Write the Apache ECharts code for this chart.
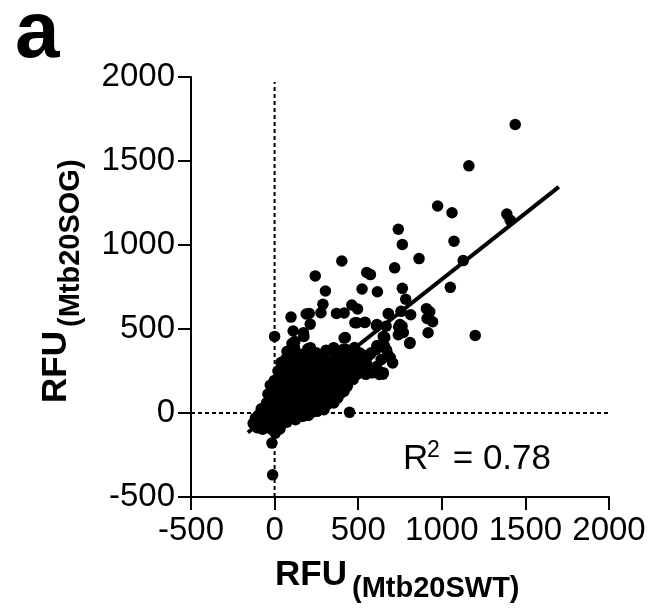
<!DOCTYPE html>
<html>
<head>
<meta charset="utf-8">
<script src="https://cdn.jsdelivr.net/npm/echarts@6/dist/echarts.min.js"></script>
<style>
html,body{margin:0;padding:0;background:#fff;}
#chart{width:655px;height:608px;}
</style>
</head>
<body>
<div id="chart"></div>
<script>
// ---- data ----
const xTicks = [-500, 0, 500, 1000, 1500, 2000];
const yTicks = [-500, 0, 500, 1000, 1500, 2000];

// scattered points (RFU Mtb20SWT, RFU Mtb20SOG)
const outerPoints = [
  [1439,1717],[1162,1471],[975,1232],[1061,1192],[1389,1184],[1409,1148],[1073,1023],[740,1094],
  [764,1003],[1128,907],[402,905],[864,919],[718,864],[551,836],[573,824],[243,816],[523,738],
  [615,722],[304,726],[764,742],[1051,748],[1200,462],[784,677],[289,647],[277,597],[462,643],
  [496,619],[370,593],[416,595],[189,589],[207,593],[98,571],[213,529],[480,537],[539,539],
  [681,589],[756,605],[814,585],[908,621],[928,603],[912,563],[945,543],[918,478],[808,414],
  [742,511],[762,517],[740,466],[609,519],[667,517],[659,450],[111,488],[175,456],[0,456],
  [121,426],[104,414],[416,446],[613,402],[670,374],[692,328],[648,231],[583,239],[448,4],
  [-2,193],[-16,-179],[-12,-368],[74,366],[354,386],[211,382],[358,225],[577,358]
];
const midPoints = [
  [508,358],[547,308],[607,378],[637,318],[657,398],[677,348],[706,298],[627,229],[612,527],
  [680,592],[750,527],[770,479],[810,419],[650,456],[612,396],[571,348],[690,330],[650,240],
  [610,277],[512,277],[472,365],[423,449],[353,389],[173,478],[214,389],[80,368],[119,388],
  [199,382],[249,358],[308,374],[408,378],[541,540],[492,537]
];
const corePoints = [
  [-128,-62],[-115,-30],[-104,-88],[-96,-12],[-88,-55],[-80,25],[-72,-96],[-66,-40],[-60,8],[-52,-70],
  [-48,60],[-44,-20],[-40,112],[-36,-58],[-30,30],[-26,165],[-22,-95],[-18,85],[-12,-30],[-8,140],
  [-5,5],[-2,-70],[2,55],[4,-120],
  [8,190],[10,-15],[14,95],[18,-60],[20,250],[24,30],[28,140],[32,-95],[35,70],[38,300],[42,5],
  [45,180],[48,-40],[50,110],
  [54,230],[57,40],[60,-20],[63,155],[66,320],[70,75],[73,-55],[76,200],[80,10],[83,270],[86,120],
  [90,-30],[93,50],[96,350],[99,175],
  [103,90],[106,240],[109,-10],[112,300],[115,140],[118,30],[121,200],[125,-40],[128,340],[131,100],
  [134,260],[137,50],[140,180],[144,-5],[147,310],[150,130],
  [153,225],[156,20],[159,80],[162,350],[165,160],[168,-20],[171,270],[174,110],[177,40],[180,205],
  [183,320],[186,0],[189,150],[192,250],[195,70],[198,180],
  [202,-15],[205,290],[208,120],[211,40],[214,230],[217,360],[220,160],[224,5],[227,80],[230,270],
  [233,190],[237,30],[240,130],[244,330],[247,60],[250,220],
  [254,10],[257,300],[260,160],[263,90],[267,250],[270,30],[274,200],[277,120],[281,340],[284,60],
  [288,180],[291,280],[295,20],[298,230],
  [302,110],[306,160],[310,310],[314,50],[318,210],[322,140],[326,260],[330,80],[334,370],[338,190],
  [342,110],[346,290],[350,150],
  [354,60],[358,240],[362,180],[366,330],[370,110],[374,220],[378,90],[382,280],[386,150],[390,350],
  [395,200],[399,120],
  [404,260],[408,170],[412,310],[416,130],[420,230],[425,380],[430,190],[435,160],[440,280],[446,220],
  [455,330],[462,250],[470,200],[478,390],[485,280],[492,230],[500,320],[510,260],[520,350],[532,300],
  [545,230],[555,280],
  [-20,20],[15,-10],[30,40],[-35,-25],[60,90],[5,120],[40,-70],[-60,-20],[80,-40],[120,60],[160,110],[200,90]
];

// linear fit y = slope*x + intercept, drawn over this x range
const fitSlope = 0.786;
const fitIntercept = 10;
const fitRange = [-160, 1700];
const r2Label = '0.78';

// reference (zero) lines
const zeroVLine = [[0, -500], [0, 1970]];
const zeroHLine = [[-500, 0], [2010, 0]];

// ---- chart ----
const FONT = "'Liberation Sans', Arial, sans-serif";
const allPoints = corePoints.concat(midPoints, outerPoints);
const fitLine = fitRange.map(x => [x, fitSlope * x + fitIntercept]);

const chart = echarts.init(document.getElementById('chart'), null, {renderer: 'canvas'});
const axisCommon = {
  type: 'value', min: -500, max: 2000, interval: 500,
  axisLine: {show: true, onZero: false, lineStyle: {color: '#000', width: 2}},
  axisTick: {show: true, length: 13, lineStyle: {color: '#000', width: 2}},
  splitLine: {show: false},
  axisLabel: {color: '#000', fontSize: 33, fontFamily: FONT, formatter: v => String(v)}
};
chart.setOption({
  animation: false,
  backgroundColor: '#fff',
  grid: {left: 191, top: 77, width: 418, height: 420, containLabel: false},
  xAxis: Object.assign({}, axisCommon, {axisLabel: Object.assign({}, axisCommon.axisLabel, {margin: 17})}),
  yAxis: Object.assign({}, axisCommon, {axisLabel: Object.assign({}, axisCommon.axisLabel, {margin: 16})}),
  series: [
    {
      type: 'line', data: zeroVLine, symbol: 'none', silent: true, z: 1,
      lineStyle: {color: '#000', width: 2, type: [4, 3]}
    },
    {
      type: 'line', data: zeroHLine, symbol: 'none', silent: true, z: 1,
      lineStyle: {color: '#000', width: 2, type: [4, 3]}
    },
    {
      type: 'scatter', data: allPoints, symbol: 'circle', symbolSize: 11.5, z: 3,
      itemStyle: {color: '#000', opacity: 1}
    },
    {
      type: 'line', data: fitLine, symbol: 'none', silent: true, z: 4,
      lineStyle: {color: '#000', width: 4}
    }
  ],
  graphic: [
    {type: 'text', x: 15, y: 35, style: {text: 'a', font: 'bold 80px ' + FONT, fill: '#000', textAlign: 'left', textVerticalAlign: 'middle'}},
    // x axis title
    {type: 'text', x: 275, y: 575, style: {text: 'RFU', font: 'bold 35px ' + FONT, fill: '#000', textAlign: 'left', textVerticalAlign: 'middle'}},
    {type: 'text', x: 352, y: 589, style: {text: '(Mtb20SWT)', font: 'bold 29px ' + FONT, fill: '#000', textAlign: 'left', textVerticalAlign: 'middle'}},
    // y axis title (rotated)
    {type: 'group', x: 56.5, y: 403, rotation: Math.PI / 2, children: [
      {type: 'text', x: 0, y: 0, style: {text: 'RFU', font: 'bold 35px ' + FONT, fill: '#000', textAlign: 'left', textVerticalAlign: 'middle'}},
      {type: 'text', x: 76, y: 14, style: {text: '(Mtb20SOG)', font: 'bold 29px ' + FONT, fill: '#000', textAlign: 'left', textVerticalAlign: 'middle'}}
    ]},
    // R^2 annotation
    {type: 'text', x: 403, y: 459.5, style: {text: 'R', font: '35px ' + FONT, fill: '#000', textAlign: 'left', textVerticalAlign: 'middle'}},
    {type: 'text', x: 427, y: 451, style: {text: '2', font: '23px ' + FONT, fill: '#000', textAlign: 'left', textVerticalAlign: 'middle'}},
    {type: 'text', x: 443, y: 459.5, style: {text: ' = ' + r2Label, font: '35px ' + FONT, fill: '#000', textAlign: 'left', textVerticalAlign: 'middle'}}
  ]
});
</script>
</body>
</html>
